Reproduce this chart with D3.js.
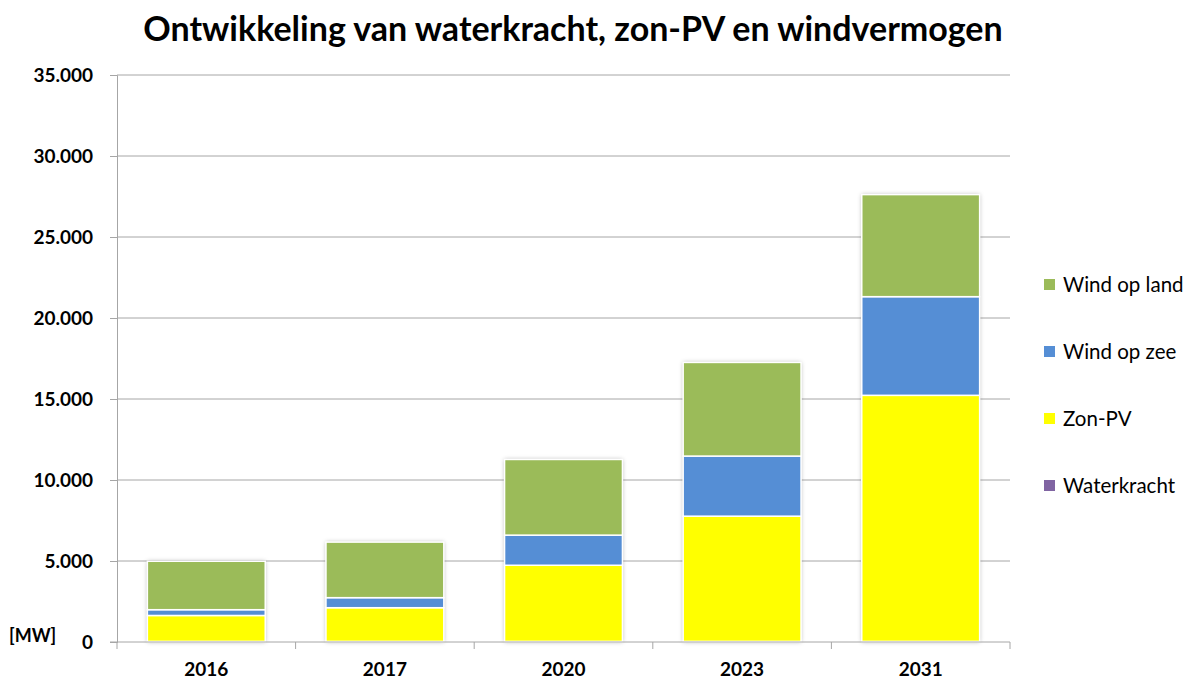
<!DOCTYPE html>
<html>
<head>
<meta charset="UTF-8">
<style>
body, html {
    margin: 0;
    padding: 0;
    width: 100%;
    height: 100%;
    overflow: hidden;
    background-color: #ffffff;
}
text { font-family: Lato, "Open Sans", sans-serif; }
</style>
</head>
<body>
<svg id="chart" width="1190" height="682"></svg>
<script src="https://d3js.org/d3.v7.min.js"></script>
<script>
// data (MW)
const years = ["2016", "2017", "2020", "2023", "2031"];
const waterkracht = [37, 37, 37, 37, 37];
const zonPV = [1600, 2080, 4700, 7730, 15190];
const windZee = [357, 620, 1860, 3710, 6090];
const windLand = [2990, 3430, 4670, 5780, 6300];

const seriesNames = ["Waterkracht", "Zon-PV", "Wind op zee", "Wind op land"];
const seriesColors = ["#8064A2", "#FFFF00", "#558ED5", "#9BBB59"];
const yTicks = [0, 5000, 10000, 15000, 20000, 25000, 30000, 35000];

let rows = years.map((y, i) => ({
    year: y,
    "Waterkracht": waterkracht[i],
    "Zon-PV": zonPV[i],
    "Wind op zee": windZee[i],
    "Wind op land": windLand[i]
}));

let plotLeft = 117, plotRight = 1010, plotTop = 75, plotBottom = 642;

let svg = d3.select("#chart");

// soft shadow behind bars
let defs = svg.append("defs");
let f = defs.append("filter").attr("id", "shadow")
    .attr("x", "-10%").attr("y", "-10%").attr("width", "120%").attr("height", "120%");
f.append("feDropShadow").attr("dx", 0).attr("dy", 0)
    .attr("stdDeviation", 2).attr("flood-color", "#000").attr("flood-opacity", 0.3);

let x = d3.scaleBand().domain(years).range([plotLeft, plotRight]).paddingInner(0.34).paddingOuter(0.17);
let y = d3.scaleLinear().domain([0, 35000]).range([plotBottom, plotTop]);

// title
svg.append("text")
    .attr("x", 573).attr("y", 41)
    .attr("text-anchor", "middle")
    .attr("font-size", 34).attr("font-weight", "bold")
    .attr("fill", "#000")
    .text("Ontwikkeling van waterkracht, zon-PV en windvermogen");

// gridlines
svg.append("g")
    .selectAll("line")
    .data(yTicks.slice(1))
    .enter().append("line")
    .attr("x1", plotLeft).attr("x2", plotRight)
    .attr("y1", d => y(d)).attr("y2", d => y(d))
    .attr("stroke", "#a6a6a6").attr("stroke-width", 1);

// y axis
let yAxis = svg.append("g")
    .attr("transform", `translate(${plotLeft},0)`)
    .call(d3.axisLeft(y).tickValues(yTicks).tickSize(7).tickPadding(17)
        .tickFormat(d => d3.format(",")(d).replace(/,/g, ".")));
yAxis.select(".domain").attr("stroke", "#a6a6a6");
yAxis.selectAll(".tick line").attr("stroke", "#a6a6a6");
yAxis.selectAll("text")
    .attr("font-size", 19).attr("font-weight", "bold").attr("fill", "#000")
    .style("font-family", "Lato, sans-serif");

// unit label
svg.append("text")
    .attr("x", 9).attr("y", 642)
    .attr("font-size", 18).attr("font-weight", "bold")
    .text("[MW]");

// stacked bars
let stack = d3.stack().keys(seriesNames);
let stacked = stack(rows);
let color = d3.scaleOrdinal().domain(seriesNames).range(seriesColors);

// shadow layer per bar
svg.append("g")
    .selectAll("rect")
    .data(rows)
    .enter().append("rect")
    .attr("x", d => x(d.year))
    .attr("width", x.bandwidth())
    .attr("y", (d, i) => y(stacked[stacked.length - 1][i][1]))
    .attr("height", (d, i) => y(0) - y(stacked[stacked.length - 1][i][1]))
    .attr("fill", "#fff")
    .attr("filter", "url(#shadow)");

svg.append("g")
    .selectAll("g")
    .data(stacked)
    .enter().append("g")
    .attr("fill", d => color(d.key))
    .selectAll("rect")
    .data(d => d)
    .enter().append("rect")
    .attr("x", d => x(d.data.year))
    .attr("width", x.bandwidth())
    .attr("y", d => y(d[1]))
    .attr("height", d => y(d[0]) - y(d[1]))
    .attr("stroke", "#fff")
    .attr("stroke-width", 1.5);

// x axis
let xAxis = svg.append("g")
    .attr("transform", `translate(0,${plotBottom})`)
    .call(d3.axisBottom(x).tickSize(0).tickPadding(21));
xAxis.select(".domain").remove();
xAxis.selectAll("text")
    .attr("font-size", 19).attr("font-weight", "bold").attr("fill", "#000")
    .style("font-family", "Lato, sans-serif");

svg.append("line")
    .attr("x1", plotLeft - 7).attr("x2", plotRight)
    .attr("y1", plotBottom).attr("y2", plotBottom)
    .attr("stroke", "#a6a6a6");

let step = x.step();
let boundaries = years.map((d, i) => plotLeft + i * step).concat([plotRight]);
svg.append("g")
    .selectAll("line")
    .data(boundaries)
    .enter().append("line")
    .attr("x1", d => d).attr("x2", d => d)
    .attr("y1", plotBottom).attr("y2", plotBottom + 7)
    .attr("stroke", "#a6a6a6");

// legend
let legendOrder = ["Wind op land", "Wind op zee", "Zon-PV", "Waterkracht"];
let legend = svg.append("g")
    .selectAll("g")
    .data(legendOrder)
    .enter().append("g")
    .attr("transform", (d, i) => `translate(1044, ${285 + i * 67})`);

legend.append("rect")
    .attr("x", 0).attr("y", -6)
    .attr("width", 11).attr("height", 11)
    .attr("fill", d => color(d));

legend.append("text")
    .attr("x", 19).attr("y", 0)
    .attr("dy", "0.35em")
    .attr("font-size", 20.5)
    .attr("fill", "#000")
    .text(d => d);
</script>
</body>
</html>
